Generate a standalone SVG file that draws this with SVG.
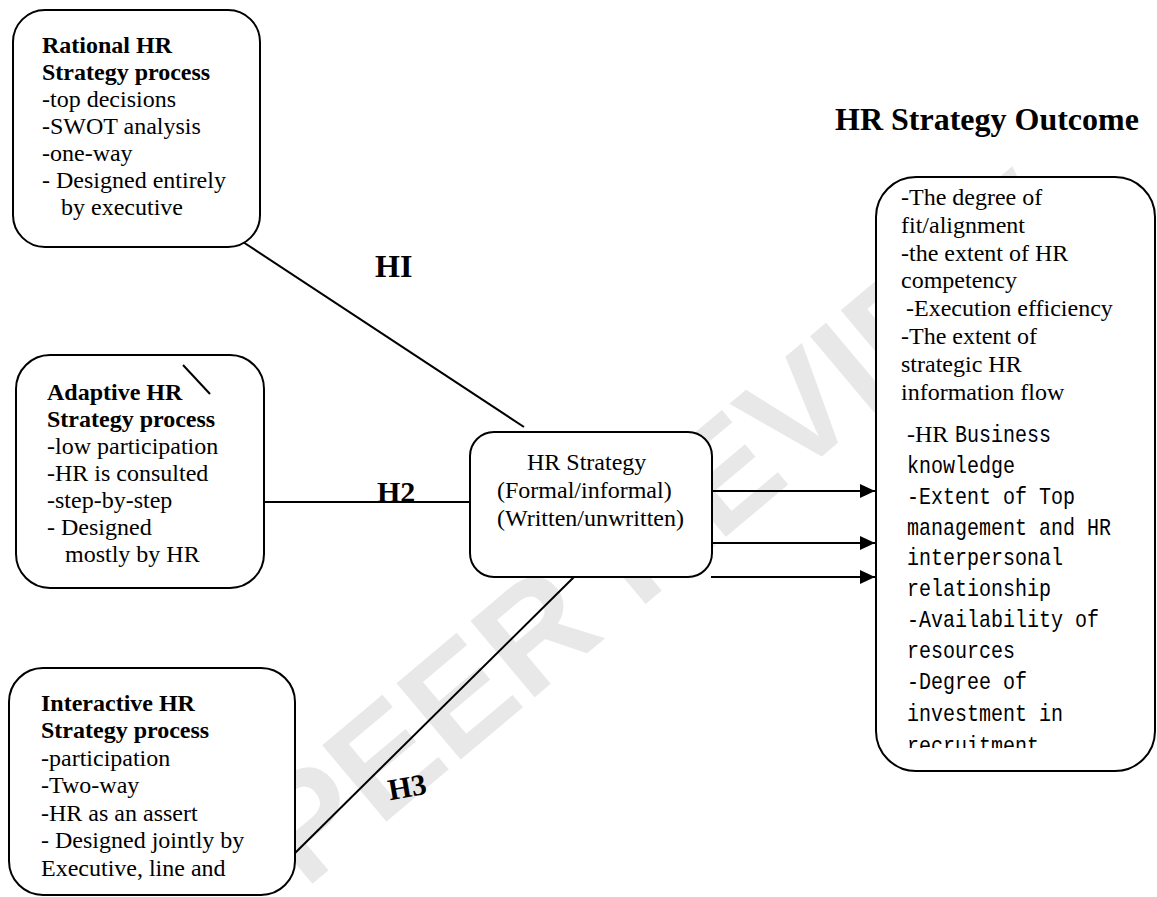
<svg xmlns="http://www.w3.org/2000/svg" width="1157" height="897" viewBox="0 0 1157 897">
  <style>
    .box { fill: #ffffff; stroke: #000000; stroke-width: 2; }
    .t { font-family: "Liberation Serif", "Times New Roman", serif; font-size: 24px; fill: #000000; }
    .b { font-weight: bold; }
    .g { font-family: "Liberation Mono", "Courier New", monospace; font-size: 24px; fill: #000000; }
    .h { font-family: "Liberation Serif", "Times New Roman", serif; font-weight: bold; fill: #000000; }
    .c { stroke: #000000; stroke-width: 2; fill: none; }
    .wm { font-family: "Liberation Sans", Arial, sans-serif; font-weight: bold; font-size: 145px; fill: #e8e8e8; }
  </style>
  <defs>
    <marker id="ah" markerUnits="userSpaceOnUse" viewBox="0 0 15 14" refX="15" refY="7" markerWidth="15" markerHeight="14" orient="auto">
      <path d="M0,0 L15,7 L0,14 Z" fill="#000000"/>
    </marker>
    <clipPath id="outclip">
      <rect x="876" y="177" width="281" height="571"/>
    </clipPath>
  </defs>
  <rect x="0" y="0" width="1157" height="897" fill="#ffffff"/>

  <g id="watermark">
    <text class="wm" transform="translate(305,890) rotate(-40)">PEER REVIEW</text>
  </g>

  <g id="connectors">
    <line class="c" x1="243" y1="242" x2="524" y2="427"/>
    <line class="c" x1="262" y1="502" x2="474" y2="502"/>
    <line class="c" x1="291" y1="857" x2="574" y2="577"/>
    <line class="c" x1="712" y1="491" x2="875" y2="491" marker-end="url(#ah)"/>
    <line class="c" x1="712" y1="543" x2="875" y2="543" marker-end="url(#ah)"/>
    <line class="c" x1="711" y1="577" x2="875" y2="577" marker-end="url(#ah)"/>
  </g>

  <g id="rational">
    <rect class="box" x="13" y="10" width="247" height="237" rx="32" ry="32"/>
    <text class="t b" x="42" y="53">Rational HR</text>
    <text class="t b" x="42" y="80">Strategy process</text>
    <text class="t" x="42" y="107">-top decisions</text>
    <text class="t" x="42" y="134">-SWOT analysis</text>
    <text class="t" x="42" y="161">-one-way</text>
    <text class="t" x="42" y="188">- Designed entirely</text>
    <text class="t" x="61" y="215">by executive</text>
  </g>

  <g id="adaptive">
    <rect class="box" x="16" y="355" width="248" height="233" rx="34" ry="34"/>
    <line class="c" x1="183" y1="365" x2="210" y2="394" stroke-width="1.5"/>
    <text class="t b" x="47" y="400">Adaptive HR</text>
    <text class="t b" x="47" y="427">Strategy process</text>
    <text class="t" x="47" y="454">-low participation</text>
    <text class="t" x="47" y="481">-HR is consulted</text>
    <text class="t" x="47" y="508">-step-by-step</text>
    <text class="t" x="47" y="535">- Designed</text>
    <text class="t" x="65" y="562">mostly by HR</text>
  </g>

  <g id="interactive">
    <rect class="box" x="9" y="668" width="286" height="227" rx="34" ry="34"/>
    <text class="t b" x="41" y="711">Interactive HR</text>
    <text class="t b" x="41" y="738">Strategy process</text>
    <text class="t" x="41" y="766">-participation</text>
    <text class="t" x="41" y="793">-Two-way</text>
    <text class="t" x="41" y="821">-HR as an assert</text>
    <text class="t" x="41" y="848">- Designed jointly by</text>
    <text class="t" x="41" y="876">Executive, line and</text>
  </g>

  <g id="hr-strategy">
    <rect class="box" x="470" y="432" width="242" height="145" rx="24" ry="24"/>
    <text class="t" x="527" y="470">HR Strategy</text>
    <text class="t" x="497" y="498">(Formal/informal)</text>
    <text class="t" x="497" y="526">(Written/unwritten)</text>
  </g>

  <g id="labels">
    <text class="h" x="375" y="277" font-size="32">HI</text>
    <text class="h" x="377" y="502" font-size="30">H2</text>
    <text class="h" x="388" y="797" font-size="30" transform="rotate(-10 408 787)">H3</text>
    <text class="h" x="835" y="130" font-size="32">HR Strategy Outcome</text>
  </g>

  <g id="outcome">
    <rect class="box" x="876" y="177" width="279" height="594" rx="40" ry="40"/>
    <g clip-path="url(#outclip)">
      <text class="t" x="901" y="205">-The degree of</text>
      <text class="t" x="901" y="233">fit/alignment</text>
      <text class="t" x="901" y="261">-the extent of HR</text>
      <text class="t" x="901" y="288">competency</text>
      <text class="t" x="906" y="316">-Execution efficiency</text>
      <text class="t" x="901" y="344">-The extent of</text>
      <text class="t" x="901" y="372">strategic HR</text>
      <text class="t" x="901" y="400">information flow</text>
      <text class="t" x="907" y="442">-HR</text>
      <text class="g" x="955" y="442" textLength="96" lengthAdjust="spacingAndGlyphs">Business</text>
      <text class="g" x="907" y="473" textLength="108" lengthAdjust="spacingAndGlyphs">knowledge</text>
      <text class="g" x="907" y="504" textLength="168" lengthAdjust="spacingAndGlyphs">-Extent of Top</text>
      <text class="g" x="907" y="535" textLength="204" lengthAdjust="spacingAndGlyphs">management and HR</text>
      <text class="g" x="907" y="565" textLength="156" lengthAdjust="spacingAndGlyphs">interpersonal</text>
      <text class="g" x="907" y="596" textLength="144" lengthAdjust="spacingAndGlyphs">relationship</text>
      <text class="g" x="907" y="627" textLength="192" lengthAdjust="spacingAndGlyphs">-Availability of</text>
      <text class="g" x="907" y="658" textLength="108" lengthAdjust="spacingAndGlyphs">resources</text>
      <text class="g" x="907" y="689" textLength="120" lengthAdjust="spacingAndGlyphs">-Degree of</text>
      <text class="g" x="907" y="721" textLength="156" lengthAdjust="spacingAndGlyphs">investment in</text>
      <text class="g" x="907" y="753" textLength="132" lengthAdjust="spacingAndGlyphs">recruitment</text>
    </g>
  </g>
</svg>
